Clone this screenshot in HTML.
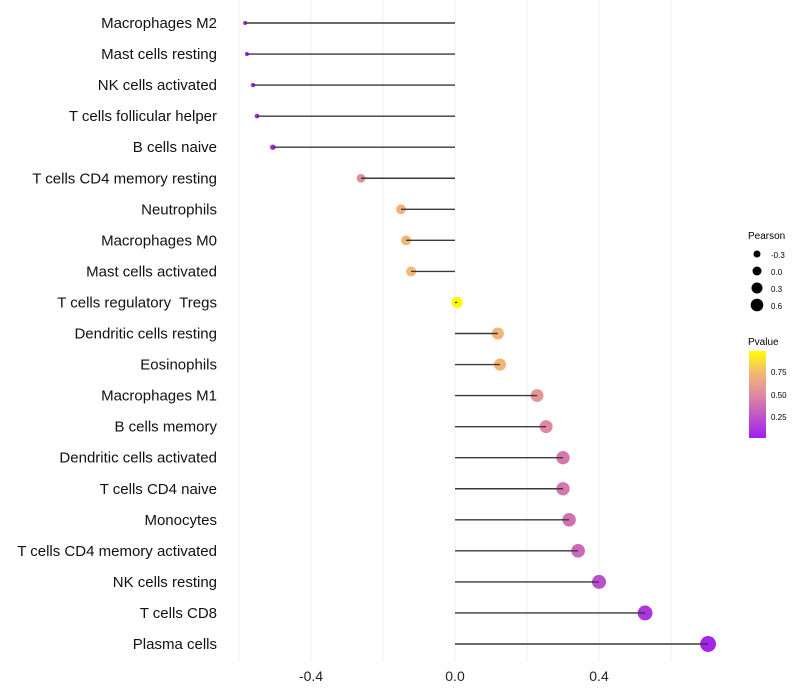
<!DOCTYPE html>
<html><head><meta charset="utf-8"><style>
body{margin:0;background:#fff;}
svg{display:block;font-family:"Liberation Sans",Arial,sans-serif;}
</style></head><body>
<svg id="chart" width="800" height="700">
<defs>
<linearGradient id="pg" x1="0" y1="1" x2="0" y2="0">
<stop offset="0" stop-color="#a020f0"/><stop offset="0.5" stop-color="#df8aa0"/><stop offset="0.75" stop-color="#f2b874"/><stop offset="1" stop-color="#ffff00"/>
</linearGradient>
</defs>
<g id="grid"></g>
<g id="marks"></g>
<g id="ylabels"></g>
<g id="xlabels"></g>
<g font-size="10">
<text x="748" y="239" fill="#000">Pearson</text>
<circle cx="757" cy="254" r="3.5" fill="#000"/><text x="771" y="258" font-size="8">-0.3</text>
<circle cx="757" cy="271" r="4.5" fill="#000"/><text x="771" y="275" font-size="8">0.0</text>
<circle cx="757" cy="288" r="5.5" fill="#000"/><text x="771" y="292" font-size="8">0.3</text>
<circle cx="757" cy="305" r="6.3" fill="#000"/><text x="771" y="309" font-size="8">0.6</text>
</g>
<g>
<text x="748" y="345" font-size="10">Pvalue</text>
<rect x="749" y="351" width="17" height="87" fill="url(#pg)"/>
<text x="771" y="375" font-size="8">0.75</text>
<text x="771" y="398" font-size="8">0.50</text>
<text x="771" y="420" font-size="8">0.25</text>
</g>
</svg>
<script>
const categories=["Macrophages M2","Mast cells resting","NK cells activated","T cells follicular helper","B cells naive","T cells CD4 memory resting","Neutrophils","Macrophages M0","Mast cells activated","T cells regulatory  Tregs","Dendritic cells resting","Eosinophils","Macrophages M1","B cells memory","Dendritic cells activated","T cells CD4 naive","Monocytes","T cells CD4 memory activated","NK cells resting","T cells CD8","Plasma cells"];
const pearson=[-0.583,-0.578,-0.561,-0.550,-0.506,-0.261,-0.150,-0.136,-0.122,0.006,0.119,0.125,0.228,0.253,0.300,0.300,0.317,0.342,0.400,0.528,0.703];
const pvalues=[0.01,0.01,0.02,0.03,0.05,0.52,0.72,0.74,0.76,0.99,0.74,0.74,0.56,0.50,0.42,0.42,0.38,0.34,0.22,0.10,0.02];
const xTicks=[-0.4,0.0,0.4];
const xGrid=[-0.6,-0.4,-0.2,0,0.2,0.4,0.6];
const NS="http://www.w3.org/2000/svg";
const xs=v=>455+v*360;
const ys=i=>23+i*31.05;
const rs=v=>Math.sqrt(Math.max(1,4+(v+0.583)*46));
function lerp(a,b,t){return a.map((x,k)=>Math.round(x+(b[k]-x)*t));}
function pcol(p){const st=[[0,[160,32,240]],[0.5,[223,138,160]],[0.75,[242,184,116]],[1,[255,255,0]]];
for(let k=0;k<st.length-1;k++){if(p<=st[k+1][0]){const t=(p-st[k][0])/(st[k+1][0]-st[k][0]);return "rgb("+lerp(st[k][1],st[k+1][1],t).join(",")+")";}}return "rgb(255,255,0)";}
function mk(tag,attrs,parent){const e=document.createElementNS(NS,tag);for(const k in attrs)e.setAttribute(k,attrs[k]);parent.appendChild(e);return e;}
const grid=document.getElementById("grid"),marks=document.getElementById("marks"),yl=document.getElementById("ylabels"),xl=document.getElementById("xlabels");
xGrid.forEach(v=>{const l=mk("line",{x1:xs(v),x2:xs(v),y1:0,y2:662,stroke:"#f2f2f2","stroke-width":1},grid);

});
xTicks.forEach(v=>{const t=mk("text",{x:xs(v),y:681,"text-anchor":"middle","font-size":14,fill:"#222"},xl);t.textContent=v.toFixed(1);

});
categories.forEach((c,i)=>{const y=ys(i);
const t=mk("text",{x:217,y:y+5,"text-anchor":"end","font-size":15,fill:"#111",style:"white-space:pre"},yl);t.textContent=c;


const pt=mk("circle",{cx:xs(pearson[i]),cy:y,r:rs(pearson[i]),fill:pcol(pvalues[i])},marks);


const ln=mk("line",{x1:xs(0),x2:xs(pearson[i]),y1:y,y2:y,stroke:"#3a3a3a","stroke-width":1.4},marks);


});
</script>
</body></html>
